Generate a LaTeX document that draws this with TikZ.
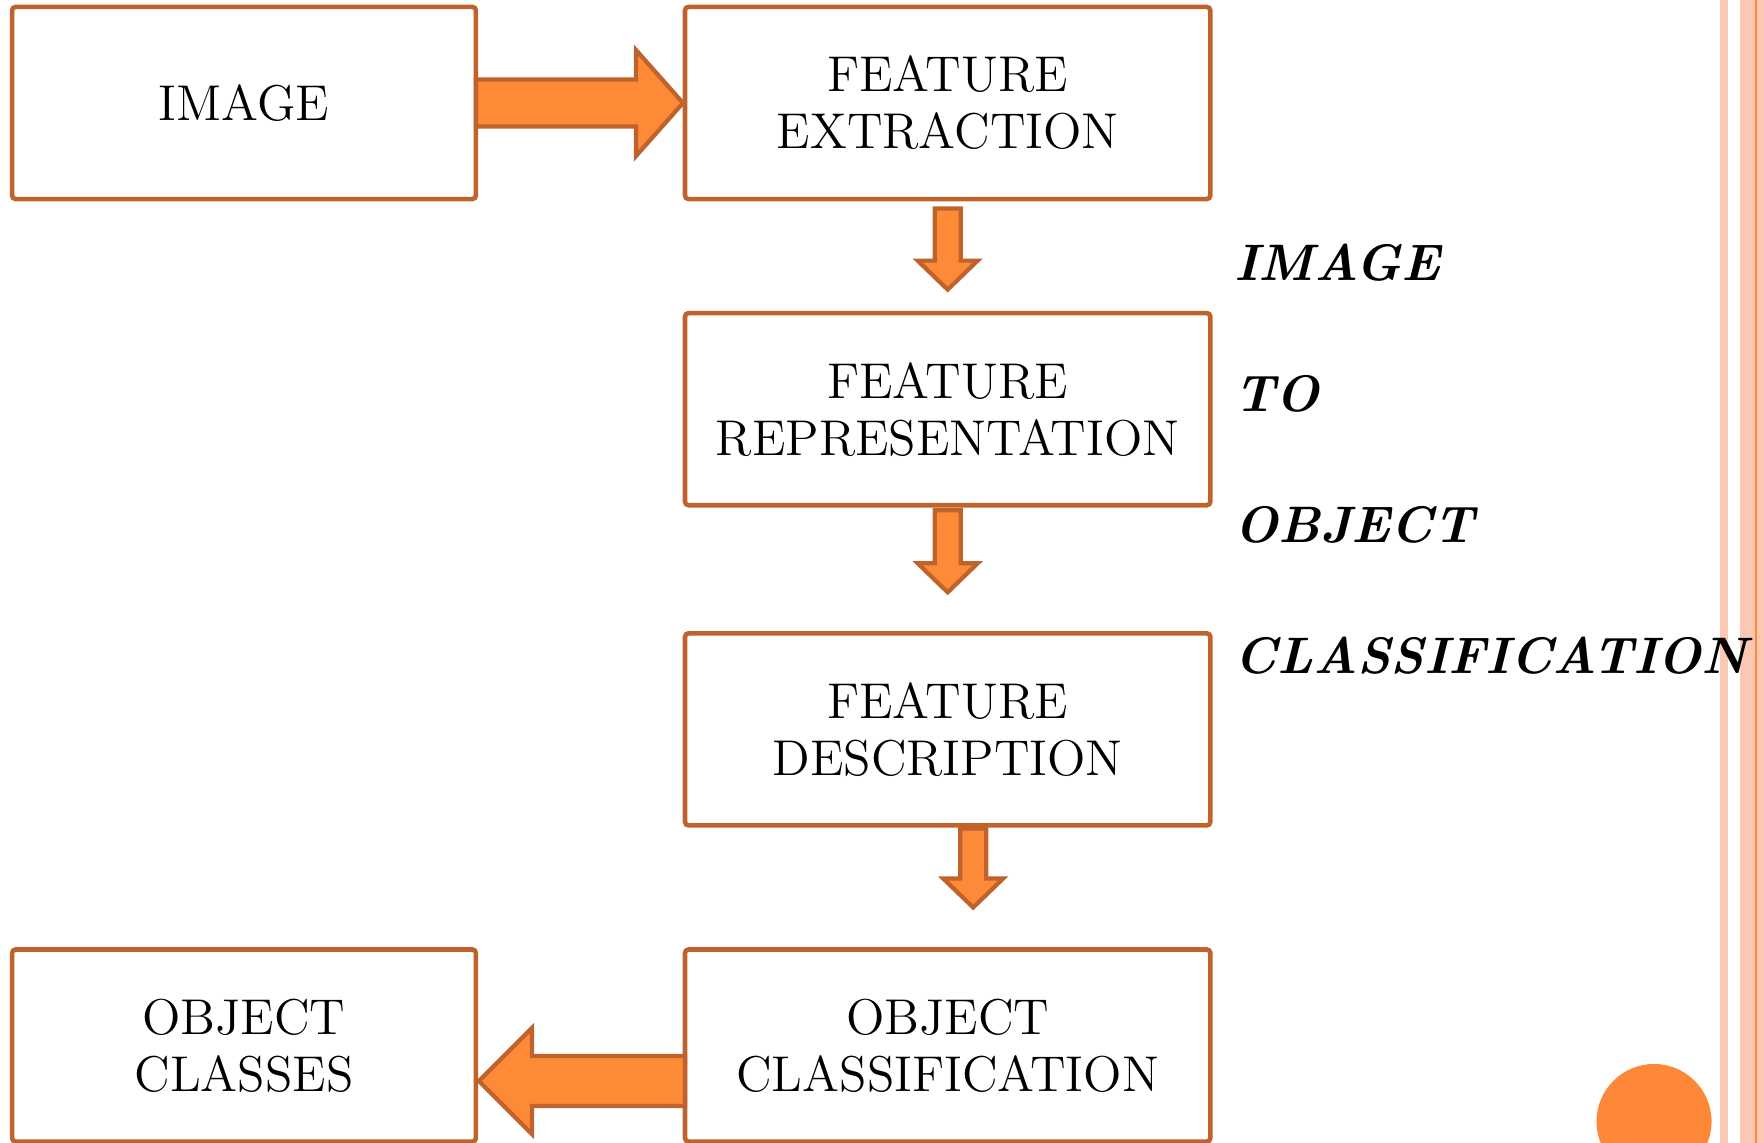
\documentclass[tikz,border=0pt]{standalone}
\usetikzlibrary{positioning,calc}
\definecolor{boxedge}{HTML}{C0622B}
\definecolor{arrowfill}{HTML}{FD8A36}
\definecolor{stripe}{HTML}{FBC8B3}
\definecolor{dotorange}{HTML}{FD8838}
\definecolor{ruleorange}{HTML}{FF8A3D}

% block arrows: #1 = back end, #2 = tip
\newcommand{\blockdown}[2]{\draw[blockarrow] ($(#1)+(-13,0)$) -- ($(#2)+(-13,-29)$) -- ($(#2)+(-30,-29)$) -- (#2) -- ($(#2)+(30,-29)$) -- ($(#2)+(13,-29)$) -- ($(#1)+(13,0)$) -- cycle;}
\newcommand{\blockright}[2]{\draw[blockarrow] ($(#1)+(0,-23.5)$) -- ($(#2)+(-47,-23.5)$) -- ($(#2)+(-47,-53)$) -- (#2) -- ($(#2)+(-47,53)$) -- ($(#2)+(-47,23.5)$) -- ($(#1)+(0,23.5)$) -- cycle;}
\newcommand{\blockleft}[2]{\draw[blockarrow] ($(#1)+(0,-25)$) -- ($(#2)+(53,-25)$) -- ($(#2)+(53,-53)$) -- (#2) -- ($(#2)+(53,53)$) -- ($(#2)+(53,25)$) -- ($(#1)+(0,25)$) -- cycle;}

\tikzset{
  box/.style={draw=boxedge, line width=1.3pt, rounded corners=1pt, outer sep=0pt,
    minimum height=1.92cm, minimum width=5.25cm, align=center,
    font=\fontsize{14.3}{16.2}\selectfont},
  blockarrow/.style={draw=boxedge, fill=arrowfill, line width=1.2pt, line join=miter},
  sideword/.style={anchor=base west, inner sep=0pt, font=\fontsize{14.6}{18}\selectfont\bfseries\itshape}
}

\begin{document}
\begin{tikzpicture}[x=0.01cm,y=-0.01cm]
  \useasboundingbox (0,0) rectangle (1764,1143);
  \clip (0,0) rectangle (1764,1143);

  % page decoration
  \fill[stripe] (1720,0) rectangle (1728,1143);
  \fill[stripe] (1740,0) rectangle (1764,1143);
  \draw[ruleorange, line width=0.6pt] (1756,0) -- (1756,1143);
  \fill[dotorange] (1654,1121.5) circle[radius=0.575cm];

  % boxes
  \node[box, minimum width=4.635cm] (img) at (244,103) {IMAGE};
  \node[box] (fext) [right=2.09cm of img] {FEATURE\\EXTRACTION};
  \node[box] (frep) [below=1.14cm of fext] {FEATURE\\REPRESENTATION};
  \node[box] (fdesc) [below=1.28cm of frep] {FEATURE\\DESCRIPTION};
  \node[box] (fclass) [below=1.24cm of fdesc] {OBJECT\\CLASSIFICATION};
  \node[box, minimum width=4.635cm] (ocls) [left=2.09cm of fclass] {OBJECT\\CLASSES};

  % arrows
  \blockright{img.east}{$(fext.west)+(-2,0)$}
  \blockdown{$(fext.south)+(0,9.5)$}{$(frep.north)+(0,-23.5)$}
  \blockdown{$(frep.south)+(0,5)$}{$(fdesc.north)+(0,-41)$}
  \blockdown{$(fdesc.south)+(25.5,3)$}{$(fclass.north)+(25.5,-42)$}
  \blockleft{$(fclass.west)+(0,35.5)$}{$(ocls.east)+(3,35.5)$}

  % title down the side
  \foreach \w [count=\i] in {IMAGE,TO,OBJECT,CLASSIFICATION}
    \node[sideword] (side\i) at (1234,{281+130.7*(\i-1)}) {\w};
\end{tikzpicture}
\end{document}
